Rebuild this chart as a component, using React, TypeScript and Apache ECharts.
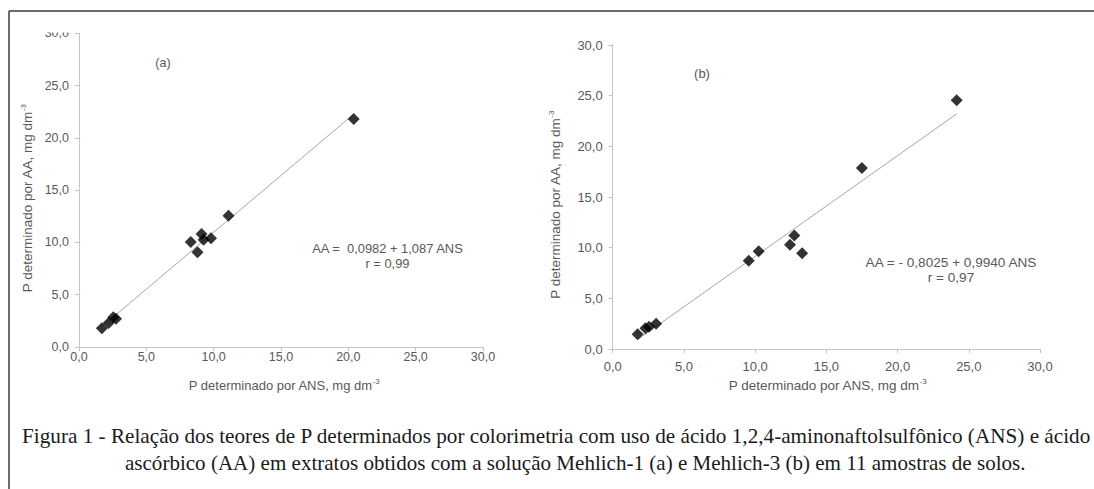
import React, { useEffect, useRef } from "react";
import * as echarts from "echarts";

// Panel (a): Mehlich-1
const ansA = [20.4, 11.1, 8.3, 9.1, 9.25, 9.8, 8.8, 1.7, 2.2, 2.55, 2.75];
const aaA = [21.8, 12.55, 10.05, 10.8, 10.25, 10.4, 9.05, 1.8, 2.3, 2.85, 2.7];
const interceptA = 0.0982;
const slopeA = 1.087;

// Panel (b): Mehlich-3
const ansB = [24.15, 17.5, 12.75, 12.45, 13.3, 10.25, 9.55, 3.05, 1.75, 2.3, 2.55];
const aaB = [24.55, 17.85, 11.2, 10.3, 9.45, 9.65, 8.7, 2.5, 1.45, 2.05, 2.2];
const interceptB = -0.8025;
const slopeB = 0.994;

const axisMin = 0;
const axisMax = 30;
const axisStep = 5;

const xTitle = "P determinado por ANS, mg dm";
const yTitle = "P determinado por AA, mg dm";
const eqA = ["AA =  0,0982 + 1,087 ANS", "r = 0,99"];
const eqB = ["AA = - 0,8025 + 0,9940 ANS", "r = 0,97"];
const caption = [
  "Figura 1 - Relação dos teores de P determinados por colorimetria com uso de ácido 1,2,4-aminonaftolsulfônico (ANS) e ácido",
  "ascórbico (AA) em extratos obtidos com a solução Mehlich-1 (a) e Mehlich-3 (b) em 11 amostras de solos.",
];

const fmt = (v: number) => v.toFixed(1).replace(".", ",");
const SANS = "'Liberation Sans', Arial, sans-serif";
const SERIF_NAME = "Liberation Serif";
const SERIF = "'Liberation Serif', 'Times New Roman', serif";
const GREY = "#595959";
const AXIS = "#c4c4c4";
const CAP_SIZE = 21;

function trend(xs: number[], a: number, b: number) {
  const lo = Math.min(...xs);
  const hi = Math.max(...xs);
  return [
    [lo, a + b * lo],
    [hi, a + b * hi],
  ];
}

function makeAxis(gridIndex: number, fontSize: number, margin: number) {
  return {
    type: "value",
    gridIndex,
    min: axisMin,
    max: axisMax,
    interval: axisStep,
    axisLine: { show: true, lineStyle: { color: AXIS, width: 1 } },
    axisTick: { show: true, length: 4, lineStyle: { color: AXIS } },
    axisLabel: { formatter: fmt, color: GREY, fontSize, margin, fontFamily: SANS },
    splitLine: { show: false },
  };
}

function titleText(x: number, y: number, text: string, fontSize: number, vertical: boolean) {
  return {
    type: "text",
    x,
    y,
    rotation: vertical ? Math.PI / 2 : 0,
    z: 50,
    style: {
      text: `{n|${text}}{s|-3}`,
      align: "center",
      verticalAlign: "middle",
      fill: GREY,
      fontFamily: SANS,
      rich: {
        n: { fontSize, lineHeight: 15, fill: GREY, fontFamily: SANS },
        s: { fontSize: 8, lineHeight: 9, verticalAlign: "top", fill: GREY, fontFamily: SANS },
      },
    },
  };
}

function plainText(x: number, y: number, text: string, fontSize: number, font = SANS, fill = GREY, align = "center") {
  return {
    type: "text",
    x,
    y,
    z: 50,
    style: { text, align, verticalAlign: "middle", fill, fontSize, fontFamily: font },
  };
}

// caption line fitted between left and right
function fitted(line: string, left: number, right: number, y: number, size: number) {
  const ctx = document.createElement("canvas").getContext("2d");
  let scale = 1;
  if (ctx) {
    ctx.font = `${size}px '${SERIF_NAME}'`;
    const w = ctx.measureText(line).width;
    if (w > 0) scale = (right - left) / w;
  }
  return {
    type: "text",
    x: left,
    y,
    scaleX: scale,
    z: 50,
    style: { text: line, align: "left", verticalAlign: "middle", fill: "#1a1a1a", fontSize: size, fontFamily: SERIF },
  };
}

export default function App() {
  const ref = useRef<HTMLDivElement>(null);
  useEffect(() => {
    if (!ref.current) return;
    const chart = echarts.init(ref.current, null, { renderer: "svg" });
    chart.setOption({
      animation: false,
      backgroundColor: "#ffffff",
      grid: [
        { left: 79, top: 33.3, width: 404, height: 313.7 },
        { left: 612.7, top: 45, width: 427.3, height: 304 },
      ],
      xAxis: [makeAxis(0, 12.5, 3), makeAxis(1, 13, 10.5)],
      yAxis: [makeAxis(0, 12.5, 10), makeAxis(1, 13, 10)],
      series: [
        {
          type: "line",
          xAxisIndex: 0,
          yAxisIndex: 0,
          data: trend(ansA, interceptA, slopeA),
          symbol: "none",
          lineStyle: { color: "#a6a6a6", width: 1 },
          z: 1,
        },
        {
          type: "scatter",
          xAxisIndex: 0,
          yAxisIndex: 0,
          data: ansA.map((x, i) => [x, aaA[i]]),
          symbol: "diamond",
          symbolSize: 12,
          itemStyle: { color: "#000000" },
          z: 3,
        },
        {
          type: "line",
          xAxisIndex: 1,
          yAxisIndex: 1,
          data: trend(ansB, interceptB, slopeB),
          symbol: "none",
          lineStyle: { color: "#a6a6a6", width: 1 },
          z: 1,
        },
        {
          type: "scatter",
          xAxisIndex: 1,
          yAxisIndex: 1,
          data: ansB.map((x, i) => [x, aaB[i]]),
          symbol: "diamond",
          symbolSize: 12,
          itemStyle: { color: "#000000" },
          z: 3,
        },
      ],
      graphic: [
        // clip of the top label of panel (a)
        { type: "rect", z: 100, shape: { x: 30, y: 12, width: 45, height: 20.5 }, style: { fill: "#ffffff" } },
        // frame
        { type: "line", z: 101, shape: { x1: 9, y1: 11, x2: 1094, y2: 11 }, style: { stroke: "#3a3a3a", lineWidth: 1.5 } },
        { type: "line", z: 101, shape: { x1: 9, y1: 11, x2: 9, y2: 489 }, style: { stroke: "#3a3a3a", lineWidth: 1.5 } },
        plainText(163, 63, "(a)", 12.5),
        plainText(702, 73, "(b)", 13),
        plainText(387.5, 248, eqA[0], 12.9),
        plainText(387.5, 263.5, eqA[1], 12.9),
        plainText(951, 262, eqB[0], 13.6),
        plainText(951, 277, eqB[1], 13.6),
        titleText(284, 385, xTitle, 13, false),
        titleText(827.5, 385, xTitle, 13.5, false),
        titleText(27, 198.5, yTitle, 13.5, true),
        titleText(555, 205, yTitle, 13.5, true),
        fitted(caption[0], 22, 1092, 436, CAP_SIZE),
        fitted(caption[1], 125, 1026, 463.5, CAP_SIZE),
      ],
    });
    return () => chart.dispose();
  }, []);
  return (
    <div
      ref={ref}
      style={{ position: "absolute", left: 0, top: 0, width: 1094, height: 489 }}
    />
  );
}
